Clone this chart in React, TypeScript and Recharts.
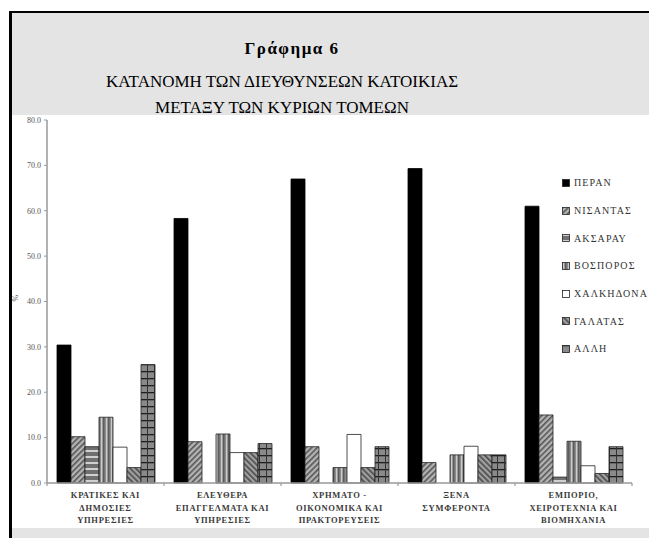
import { BarChart, Bar, XAxis, YAxis, Legend } from 'recharts'

const sectors = [
  'ΚΡΑΤΙΚΕΣ ΚΑΙ|ΔΗΜΟΣΙΕΣ|ΥΠΗΡΕΣΙΕΣ',
  'ΕΛΕΥΘΕΡΑ|ΕΠΑΓΓΕΛΜΑΤΑ ΚΑΙ|ΥΠΗΡΕΣΙΕΣ',
  'ΧΡΗΜΑΤΟ -|ΟΙΚΟΝΟΜΙΚΑ ΚΑΙ|ΠΡΑΚΤΟΡΕΥΣΕΙΣ',
  'ΞΕΝΑ|ΣΥΜΦΕΡΟΝΤΑ',
  'ΕΜΠΟΡΙΟ,|ΧΕΙΡΟΤΕΧΝΙΑ ΚΑΙ|ΒΙΟΜΗΧΑΝΙΑ',
]
const districts = ['ΠΕΡΑΝ', 'ΝΙΣΑΝΤΑΣ', 'ΑΚΣΑΡΑΥ', 'ΒΟΣΠΟΡΟΣ', 'ΧΑΛΚΗΔΟΝΑ', 'ΓΑΛΑΤΑΣ', 'ΑΛΛΗ']

const peran = [30.4, 58.3, 67.0, 69.3, 61.0]
const nisantas = [10.2, 9.1, 8.0, 4.5, 15.0]
const aksaray = [8.0, 0, 0, 0, 1.3]
const vosporos = [14.5, 10.8, 3.4, 6.2, 9.2]
const chalkidona = [7.9, 6.7, 10.7, 8.1, 3.8]
const galatas = [3.4, 6.7, 3.4, 6.2, 2.1]
const alli = [26.1, 8.7, 8.0, 6.2, 8.0]
const yTicks = [0, 10, 20, 30, 40, 50, 60, 70, 80]

const series = [peran, nisantas, aksaray, vosporos, chalkidona, galatas, alli]
const keys = ['peran', 'nisantas', 'aksaray', 'vosporos', 'chalkidona', 'galatas', 'alli']
const fills = ['#000', 'url(#pNis)', 'url(#pAks)', 'url(#pBos)', '#fff', 'url(#pGal)', 'url(#pAll)']

const data = sectors.map((s, i) => {
  const row: any = { name: s }
  keys.forEach((k, j) => (row[k] = series[j][i]))
  return row
})

const serif = '"Liberation Serif", "DejaVu Serif", serif'

function SectorTick(props: any) {
  const { x, y, payload, index, visibleTicksCount, width } = props
  const half = payload.offset || width / visibleTicksCount / 2
  const lines = String(payload.value).split('|')
  return (
    <g>
      <line x1={x - half} x2={x - half} y1={y} y2={y + 3} stroke="#999" strokeWidth={1.2} />
      {index === visibleTicksCount - 1 && (
        <line x1={x + half} x2={x + half} y1={y} y2={y + 3} stroke="#999" strokeWidth={1.2} />
      )}
      <text x={x} y={y + 15} textAnchor="middle" fontSize={8.5} fontWeight="bold" fill="#3a3a3a" fontFamily={serif} letterSpacing={0.7}>
        {lines.map((l, i) => (
          <tspan key={i} x={x} dy={i === 0 ? 0 : 12.5}>{l}</tspan>
        ))}
      </text>
    </g>
  )
}

function LegendBox() {
  return (
    <div style={{ fontFamily: serif, fontSize: 10, color: '#333', letterSpacing: 1.1 }}>
      {districts.map((d, i) => (
        <div key={d} style={{ height: 27.7, display: 'flex', alignItems: 'center', whiteSpace: 'nowrap' }}>
          <svg width={8} height={8} style={{ flex: 'none' }}>
            <rect x={0.5} y={0.5} width={7} height={7} fill={fills[i]} stroke="#222" strokeWidth={0.8} />
          </svg>
          <span style={{ marginLeft: 4 }}>{d}</span>
        </div>
      ))}
    </div>
  )
}

export default function App() {
  return (
    <div style={{ position: 'absolute', left: 0, top: 0, width: 649, height: 538, background: '#fff', overflow: 'hidden' }}>
      <div style={{ position: 'absolute', left: 9, top: 11, width: 640, height: 104, background: '#e4e4e4', borderTop: '2px solid #000', borderLeft: '3px solid #000', boxSizing: 'border-box' }} />
      <div style={{ position: 'absolute', left: 9, top: 115, width: 3, height: 423, background: '#000' }} />
      <div style={{ position: 'absolute', left: 12, top: 528, width: 637, height: 10, background: '#e4e4e4' }} />
      <div style={{ position: 'absolute', left: 12, top: 39, width: 560, textAlign: 'center', fontFamily: serif, fontSize: 17, lineHeight: '20px', fontWeight: 'bold', letterSpacing: 1.5 }}>
        Γράφημα 6
      </div>
      <div style={{ position: 'absolute', left: 12, top: 72, width: 540, textAlign: 'center', fontFamily: serif, fontSize: 17, lineHeight: '20px' }}>
        ΚΑΤΑΝΟΜΗ ΤΩΝ ΔΙΕΥΘΥΝΣΕΩΝ ΚΑΤΟΙΚΙΑΣ
      </div>
      <div style={{ position: 'absolute', left: 12, top: 98, width: 540, textAlign: 'center', fontFamily: serif, fontSize: 17, lineHeight: '20px' }}>
        ΜΕΤΑΞΥ ΤΩΝ ΚΥΡΙΩΝ ΤΟΜΕΩΝ
      </div>
      <div style={{ position: 'absolute', left: 0, top: 0 }}>
        <BarChart width={649} height={538} data={data} margin={{ top: 120, right: 17, bottom: 10, left: 12 }} barGap={0} barSize={14}>
          <defs>
            <pattern id="pNis" width={4} height={4} patternUnits="userSpaceOnUse" patternTransform="rotate(45)">
              <rect width={4} height={4} fill="#b4b4b4" />
              <rect width={1.6} height={4} fill="#555" />
            </pattern>
            <pattern id="pGal" width={4} height={4} patternUnits="userSpaceOnUse" patternTransform="rotate(-45)">
              <rect width={4} height={4} fill="#a0a0a0" />
              <rect width={1.6} height={4} fill="#4a4a4a" />
            </pattern>
            <pattern id="pAks" width={6} height={6} patternUnits="userSpaceOnUse">
              <rect width={6} height={6} fill="#707070" />
              <rect width={6} height={2} fill="#d0d0d0" />
            </pattern>
            <pattern id="pBos" width={5} height={5} patternUnits="userSpaceOnUse">
              <rect width={5} height={5} fill="#8c8c8c" />
              <rect x={1} width={1.2} height={5} fill="#cccccc" />
              <rect x={3.2} width={1.2} height={5} fill="#505050" />
            </pattern>
            <pattern id="pAll" width={7} height={7} patternUnits="userSpaceOnUse">
              <rect width={7} height={7} fill="#8a8a8a" />
              <rect width={7} height={1.3} fill="#1e1e1e" />
              <rect width={1} height={7} fill="#333" />
            </pattern>
          </defs>
          <XAxis
            dataKey="name"
            height={45}
            tickSize={0}
            tickMargin={0}
            tickLine={false}
            axisLine={{ stroke: '#999', strokeWidth: 1.5 }}
            interval={0}
            tick={<SectorTick />}
          />
          <YAxis
            width={35}
            domain={[0, 80]}
            ticks={yTicks}
            interval={0}
            tickSize={3}
            tickMargin={3}
            tickFormatter={(v: number) => v.toFixed(1)}
            tick={{ fontSize: 8, fill: '#555', fontFamily: serif }}
            tickLine={{ stroke: '#999' }}
            axisLine={{ stroke: '#999', strokeWidth: 1.5 }}
            label={{ value: '%', angle: -90, position: 'insideLeft', offset: 3, fontSize: 8, fill: '#555', fontFamily: serif }}
          />
          <Legend
            layout="horizontal"
            verticalAlign="middle"
            align="center"
            content={() => <LegendBox />}
            wrapperStyle={{ left: 562, top: 169, width: 100 }}
          />
          {keys.map((k, j) => (
            <Bar
              key={k}
              dataKey={k}
              name={districts[j]}
              fill={fills[j]}
              stroke={j === 0 ? '#000' : '#222'}
              strokeWidth={0.8}
              isAnimationActive={false}
            />
          ))}
        </BarChart>
      </div>
    </div>
  )
}
